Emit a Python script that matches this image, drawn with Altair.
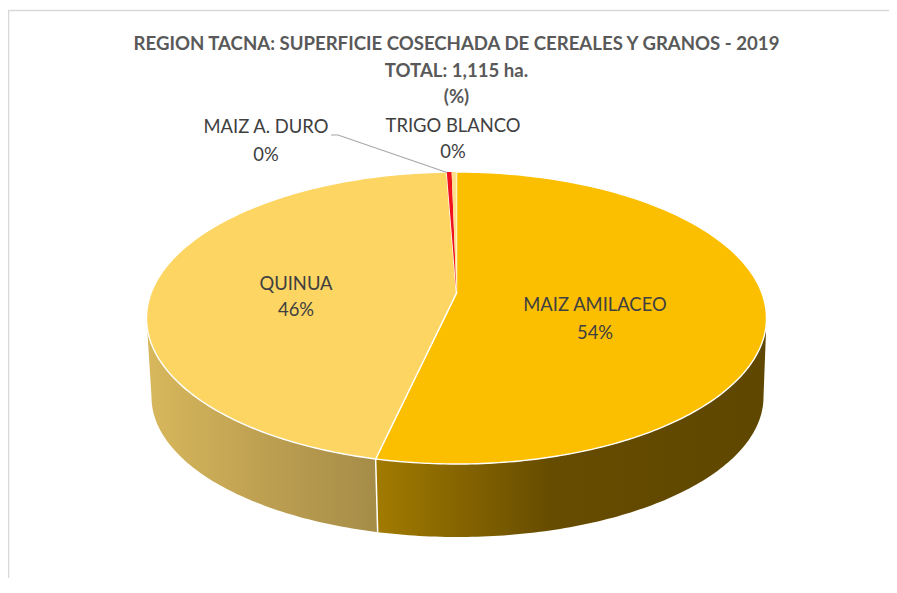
import math
import altair as alt

CATEGORIES = ["MAIZ AMILACEO", "QUINUA", "MAIZ A. DURO", "TRIGO BLANCO"]
SHARES = [54.2, 45.3, 0.25, 0.25]
LABELS = ["54%", "46%", "0%", "0%"]
TITLE_LINES = ["REGION TACNA: SUPERFICIE COSECHADA DE CEREALES Y GRANOS - 2019",
               "TOTAL: 1,115 ha.", "(%)"]

TOP_COLORS = ["#fcbf00", "#fdd562", "#f0101e", "#fde08c"]

W, H = 881, 577
OX, OY = 8, 8
CX, CY, RX, RY = 456.5, 318, 310, 146
BX, BY, BRX, BRY = 457.5, 397, 306, 140
APEX = (456.5, 293)
PROJ = dict(type="identity", scale=1, translate=[-OX, -OY])


def top(t):
    a = math.radians(t)
    return [CX + RX * math.sin(a), CY - RY * math.cos(a)]


def bot(t):
    a = math.radians(t)
    return [BX + BRX * math.sin(a), BY - BRY * math.cos(a)]


def steps(a, b):
    n = max(2, int(abs(b - a)) + 2)
    return [a + (b - a) * i / (n - 1) for i in range(n)]


def feature(points, **props):
    return {"type": "Feature", "properties": props,
            "geometry": {"type": "Polygon", "coordinates": [points + [points[0]]]}}


edges = [0.0]
for s in SHARES:
    edges.append(edges[-1] + s * 3.6)

wedges = [
    feature([list(APEX)] + [top(t) for t in steps(edges[i], edges[i + 1])], color=TOP_COLORS[i], name=CATEGORIES[i])
    for i in range(len(SHARES))
]


def wall(a, b):
    pts = [top(t) for t in steps(a, b)] + [bot(t) for t in steps(b, a)]
    return feature(pts)


def gradient(stops):
    return alt.Gradient(gradient="linear", x1=0, x2=1, y1=0, y2=0,
                        stops=[alt.GradientStop(offset=o, color=c) for o, c in stops])


split = edges[1]
wall_maiz = alt.Chart(alt.InlineData(values=[wall(90, split)])).mark_geoshape(
    fill=gradient([(0, "#a27b00"), (0.45, "#664c00"), (1, "#5f4700")]), stroke=None
).project(**PROJ)

wall_quinua = alt.Chart(alt.InlineData(values=[wall(split, 270)])).mark_geoshape(
    fill=gradient([(0, "#d8b85c"), (0.5, "#bea052"), (1, "#a58c47")]), stroke=None
).project(**PROJ)

seam = alt.Chart(alt.InlineData(values=[{"lon": top(split)[0], "lat": top(split)[1], "o": 0},
                                        {"lon": bot(split)[0], "lat": bot(split)[1], "o": 1}])).mark_line(
    color="white", strokeWidth=1.5
).encode(longitude="lon:Q", latitude="lat:Q", order="o:Q").project(**PROJ)

slices = alt.Chart(alt.InlineData(values=wedges[:2])).mark_geoshape(
    stroke="white", strokeWidth=1.4, strokeJoin="round"
).encode(fill=alt.Color("properties.color:N", scale=None, legend=None)).project(**PROJ)

small_slices = alt.Chart(alt.InlineData(values=wedges[2:])).mark_geoshape(
    strokeWidth=0
).encode(fill=alt.Color("properties.color:N", scale=None, legend=None)).project(**PROJ)

frame_pts = [{"lon": 889, "lat": 10.5, "o": 0}, {"lon": 8.5, "lat": 10.5, "o": 1}, {"lon": 8.5, "lat": 578, "o": 2}]
frame = alt.Chart(alt.InlineData(values=frame_pts)).mark_line(
    color="#d9d9d9", strokeWidth=1.6
).encode(longitude="lon:Q", latitude="lat:Q", order="o:Q").project(**PROJ)

leader_pts = [{"lon": 331, "lat": 135, "o": 0}, {"lon": 338, "lat": 135, "o": 1}, {"lon": 447, "lat": 172.5, "o": 2}]
leader = alt.Chart(alt.InlineData(values=leader_pts)).mark_line(
    color="#a6a6a6", strokeWidth=1.1
).encode(longitude="lon:Q", latitude="lat:Q", order="o:Q").project(**PROJ)

label_rows = []
LABEL_POS = {"MAIZ AMILACEO": (595, 305, 333), "QUINUA": (296, 284, 310),
             "MAIZ A. DURO": (266, 127, 155), "TRIGO BLANCO": (453, 126, 152)}
for c, l in zip(CATEGORIES, LABELS):
    x, y1, y2 = LABEL_POS[c]
    label_rows.append({"lon": x, "lat": y1, "t": c})
    label_rows.append({"lon": x, "lat": y2, "t": l})

labels = alt.Chart(alt.InlineData(values=label_rows)).mark_text(
    font="Lato", fontSize=18.4, color="#404040", align="center", baseline="middle"
).encode(longitude="lon:Q", latitude="lat:Q", text="t:N").project(**PROJ)

chart = alt.layer(frame, wall_quinua, wall_maiz, seam, slices, small_slices, leader, labels).properties(
    width=W, height=H, padding=0,
    autosize=alt.AutoSizeParams(type="none"),
    title=alt.TitleParams(text=TITLE_LINES, font="Lato", fontSize=18.6, fontWeight="bold", color="#595959",
                          anchor="middle", frame="group", offset=-99, dx=8, lineHeight=26.5)
).configure_view(stroke=None)

chart.save("out.html", embed_options={"renderer": "svg", "actions": False})
